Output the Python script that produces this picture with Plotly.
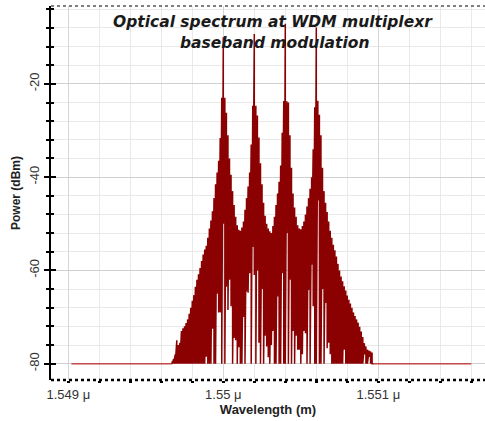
import plotly.graph_objects as go

# ---- data ----
# wavelength samples (micrometres) across the modulated band
wavelength_um = [
    1.54967, 1.54968, 1.54969, 1.54970, 1.54971, 1.54972, 1.54973, 1.54974, 1.54975, 1.54976,
    1.54977, 1.54978, 1.54979, 1.54980, 1.54981, 1.54982, 1.54983, 1.54984, 1.54985, 1.54986,
    1.54987, 1.54988, 1.54989, 1.54990, 1.54991, 1.54992, 1.54993, 1.54994, 1.54995, 1.54996,
    1.54997, 1.54998, 1.54999, 1.55000, 1.55001, 1.55002, 1.55003, 1.55004, 1.55005, 1.55006,
    1.55007, 1.55008, 1.55009, 1.55010, 1.55011, 1.55012, 1.55013, 1.55014, 1.55015, 1.55016,
    1.55017, 1.55018, 1.55019, 1.55020, 1.55021, 1.55022, 1.55023, 1.55024, 1.55025, 1.55026,
    1.55027, 1.55028, 1.55029, 1.55030, 1.55031, 1.55032, 1.55033, 1.55034, 1.55035, 1.55036,
    1.55037, 1.55038, 1.55039, 1.55040, 1.55041, 1.55042, 1.55043, 1.55044, 1.55045, 1.55046,
    1.55047, 1.55048, 1.55049, 1.55050, 1.55051, 1.55052, 1.55053, 1.55054, 1.55055, 1.55056,
    1.55057, 1.55058, 1.55059, 1.55060, 1.55061, 1.55062, 1.55063, 1.55064, 1.55065, 1.55066,
    1.55067, 1.55068, 1.55069, 1.55070, 1.55071, 1.55072, 1.55073, 1.55074, 1.55075, 1.55076,
    1.55077, 1.55078, 1.55079, 1.55080, 1.55081, 1.55082, 1.55083, 1.55084, 1.55085, 1.55086,
    1.55087, 1.55088, 1.55089, 1.55090, 1.55091, 1.55092, 1.55093, 1.55094, 1.55095, 1.55096,
    1.55097,
]
# upper excursion of the trace at each sample (dBm)
power_max_dbm = [
    -79.5, -79.0, -78.0, -75.0, -76.0, -75.5, -73.0, -72.4, -72.0, -71.3,
    -70.5, -69.3, -68.0, -66.5, -65.3, -63.5, -62.0, -60.8, -59.5, -58.0,
    -56.6, -55.5, -54.7, -53.0, -51.0, -49.3, -47.3, -44.5, -41.5, -39.0,
    -36.5, -31.6, -23.0, -10.0, -23.0, -26.2, -31.0, -36.0, -39.5, -43.0,
    -46.0, -48.5, -50.3, -51.3, -51.5, -50.8, -49.5, -47.0, -44.5, -42.0,
    -39.0, -33.0, -24.7, -9.3, -24.7, -26.8, -31.5, -37.0, -41.5, -45.5,
    -48.3, -50.0, -51.0, -51.6, -52.0, -50.5, -48.5, -46.0, -43.5, -41.0,
    -37.5, -30.5, -23.7, -7.1, -23.7, -24.0, -31.0, -38.0, -43.5, -46.5,
    -48.5, -50.3, -51.0, -51.2, -50.5, -49.5, -48.0, -46.3, -44.5, -42.5,
    -40.0, -34.0, -25.0, -7.9, -23.6, -26.6, -31.0, -38.0, -43.0, -45.5,
    -47.5, -49.5, -51.5, -53.0, -54.5, -55.7, -57.0, -58.6, -60.0, -61.3,
    -62.3, -63.4, -64.3, -65.4, -66.3, -67.1, -68.0, -69.0, -69.8, -70.5,
    -71.2, -72.1, -73.1, -74.3, -75.6, -76.3, -77.0, -77.2, -77.4, -77.6,
    -80.0,
]
# lower excursion of the trace at each sample (dBm)
power_min_dbm = [
    -80.0, -80.0, -80.0, -80.0, -80.0, -80.0, -80.0, -80.0, -80.0, -80.0,
    -80.0, -80.0, -80.0, -80.0, -80.0, -80.0, -80.0, -80.0, -80.0, -80.0,
    -80.0, -80.0, -78.5, -80.0, -80.0, -80.0, -72.5, -80.0, -80.0, -65.0,
    -69.0, -69.0, -80.0, -50.0, -80.0, -63.5, -68.5, -62.0, -67.7, -80.0,
    -74.5, -75.0, -80.0, -76.5, -80.0, -80.0, -70.0, -80.0, -64.5, -64.8,
    -60.6, -80.0, -55.0, -61.0, -80.0, -60.0, -75.5, -80.0, -64.0, -80.0,
    -74.0, -76.3, -78.6, -80.0, -76.0, -73.0, -80.0, -80.0, -65.6, -80.0,
    -80.0, -60.6, -80.0, -80.0, -52.0, -80.0, -62.0, -80.0, -73.0, -80.0,
    -74.0, -77.0, -77.0, -80.0, -78.0, -73.0, -73.5, -80.0, -64.2, -80.0,
    -58.8, -67.7, -80.0, -80.0, -45.0, -80.0, -80.0, -64.0, -80.0, -67.0,
    -76.7, -75.5, -78.0, -80.0, -80.0, -80.0, -80.0, -80.0, -80.0, -80.0,
    -80.0, -77.0, -80.0, -80.0, -80.0, -80.0, -80.0, -80.0, -80.0, -80.0,
    -80.0, -80.0, -80.0, -80.0, -78.0, -80.0, -80.0, -78.5, -80.0, -80.0,
    -80.0,
]
# noise floor segments either side of the band
floor_left_um = [1.54902, 1.54967]
floor_right_um = [1.55097, 1.55160]
floor_dbm = [-80.0, -80.0]

x_tick_vals = [1.549, 1.550, 1.551]
x_tick_text = ["1.549 \u03bc", "1.55 \u03bc", "1.551 \u03bc"]
y_tick_vals = [-80, -60, -40, -20]
y_tick_text = ["-80", "-60", "-40", "-20"]
title_lines = ["Optical spectrum at WDM multiplexr", "baseband modulation"]

# ---- build the zig-zag trace (max then min at each sample) ----
xs, ys = [], []
for w, hi, lo in zip(wavelength_um, power_max_dbm, power_min_dbm):
    xs += [w, w]
    ys += [hi, lo]

RED = "#8b0000"
fig = go.Figure()
fig.add_trace(go.Scatter(x=floor_left_um, y=floor_dbm, mode="lines",
                         line=dict(color="#c24a4a", width=1.6), hoverinfo="skip"))
fig.add_trace(go.Scatter(x=floor_right_um, y=floor_dbm, mode="lines",
                         line=dict(color="#c24a4a", width=1.6), hoverinfo="skip"))
fig.add_trace(go.Scatter(x=xs, y=ys, mode="lines",
                         line=dict(color=RED, width=1.5), hoverinfo="skip"))
fig.add_trace(go.Scatter(x=[None], y=[None], yaxis="y2", showlegend=False, hoverinfo="skip"))

FONT = "Liberation Sans, Arial, sans-serif"
TITLE_FONT = "DejaVu Sans, Verdana, sans-serif"
x_range = [1.5488884, 1.5516884]
y_range = [-83.5, -3.3]

fig.update_layout(
    width=485, height=421,
    margin=dict(l=51, r=0, t=6, b=41, autoexpand=False),
    paper_bgcolor="white", plot_bgcolor="white",
    showlegend=False,
    font=dict(family=FONT, color="#222"),
    xaxis=dict(
        range=x_range, tickmode="array", tickvals=x_tick_vals, ticktext=x_tick_text,
        automargin=False,
        showgrid=True, gridcolor="#d6d6d6", gridwidth=1,
        ticks="outside", ticklen=2, tickwidth=3, tickcolor="black",
        minor=dict(tickmode="linear", tick0=1.549, dtick=0.0002, showgrid=True,
                   gridcolor="#e9e9e9", gridwidth=1, ticks="outside", ticklen=2,
                   tickwidth=3, tickcolor="black"),
        showline=False, zeroline=False,
        tickfont=dict(size=13, color="#333", family=FONT),
        title=dict(text="<b>Wavelength (m)</b>", font=dict(size=13, color="#222"), standoff=2),
    ),
    yaxis=dict(
        range=y_range, tickmode="array", tickvals=y_tick_vals, ticktext=y_tick_text,
        automargin=False,
        tickangle=-90,
        showgrid=True, gridcolor="#d0d0d0", gridwidth=1,
        ticks="outside", ticklen=5, tickwidth=1.5, tickcolor="black",
        minor=dict(tickmode="linear", tick0=-80, dtick=4, showgrid=True,
                   gridcolor="#e9e9e9", gridwidth=1, ticks="outside", ticklen=3,
                   tickwidth=1.5, tickcolor="black"),
        showline=True, linecolor="black", linewidth=2, zeroline=False,
        tickfont=dict(size=13, color="#333", family=FONT),
        title=dict(text="<b>Power (dBm)</b>", font=dict(size=12, color="#222"), standoff=4),
    ),
    yaxis2=dict(
        range=y_range, overlaying="y", side="left", tickmode="array",
        automargin=False,
        tickvals=y_tick_vals, showticklabels=False, showgrid=False, zeroline=False,
        ticks="inside", ticklen=5, tickwidth=1.5, tickcolor="black",
        minor=dict(tickmode="linear", tick0=-80, dtick=4, ticks="inside", ticklen=3,
                   tickwidth=1.5, tickcolor="black", showgrid=False),
        showline=False,
    ),
    shapes=[
        dict(type="line", xref="paper", yref="paper", x0=0, x1=1, y0=0, y1=0,
             line=dict(color="black", width=2.5, dash="dot")),
        dict(type="line", xref="paper", yref="paper", x0=0, x1=1, y0=1, y1=1,
             line=dict(color="black", width=1.2, dash="dot")),
    ],
    annotations=[
        dict(text="<b><i>" + title_lines[0] + "</i></b>",
             xref="paper", yref="paper", x=0.5115, y=0.957, xanchor="center", yanchor="middle",
             showarrow=False, font=dict(size=15.5, color="#1a1a1a", family=TITLE_FONT)),
        dict(text="<b><i>" + title_lines[1] + "</i></b>",
             xref="paper", yref="paper", x=0.514, y=0.900, xanchor="center", yanchor="middle",
             showarrow=False, font=dict(size=15.5, color="#1a1a1a", family=TITLE_FONT)),
    ],
)

fig.write_html(
    "out.html",
    config={"displayModeBar": False},
    post_script="document.body.style.margin='0';document.body.style.overflow='hidden';",
)
